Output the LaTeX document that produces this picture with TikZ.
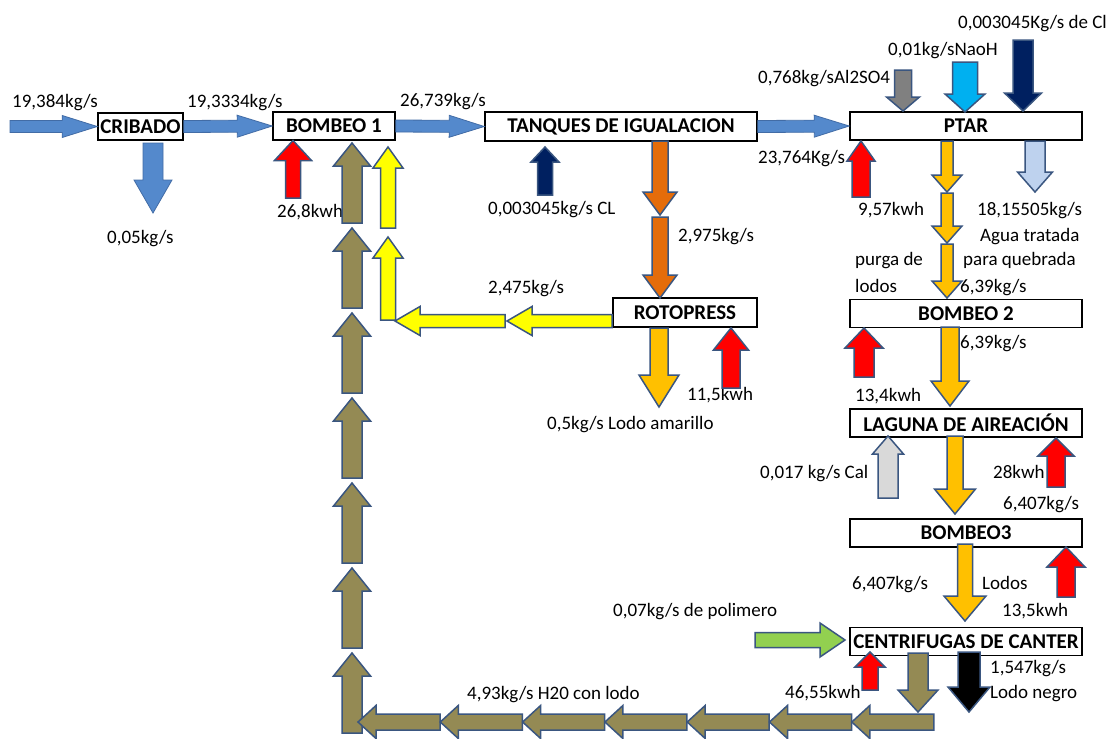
\documentclass[tikz,border=0pt]{standalone}
\usepackage{fontspec}
\setmainfont{Carlito}
\usepackage{tikz}
\usetikzlibrary{calc, positioning}

\definecolor{flowblue}{RGB}{84,137,204}
\definecolor{flowrim}{RGB}{66,108,166}
\definecolor{arrowrim}{RGB}{58,86,128}
\definecolor{powerred}{RGB}{255,0,0}
\definecolor{mudolive}{RGB}{148,138,84}
\definecolor{cakeyellow}{RGB}{255,255,0}
\definecolor{sludgeorange}{RGB}{228,108,10}
\definecolor{sludgegold}{RGB}{255,192,0}
\definecolor{chemnavy}{RGB}{0,32,96}
\definecolor{chemgrey}{RGB}{128,128,128}
\definecolor{sodasky}{RGB}{0,176,240}
\definecolor{cleanwater}{RGB}{190,210,238}
\definecolor{limegrey}{RGB}{217,217,217}
\definecolor{polygreen}{RGB}{146,208,80}

% block arrow: [style] {tail} {tip} {half shaft} {half head} {head length}
\newcommand\blockarrow[6][]{%
  \coordinate (ba-neck) at ($(#3)!#6pt!(#2)$);
  \draw[flowshape,#1] ($(#2)!#4pt!90:(#3)$) -- ($(ba-neck)!#4pt!90:(#3)$)
    -- ($(ba-neck)!#5pt!90:(#3)$) -- (#3) -- ($(ba-neck)!#5pt!-90:(#3)$)
    -- ($(ba-neck)!#4pt!-90:(#3)$) -- ($(#2)!#4pt!-90:(#3)$) -- cycle;}

\begin{document}
\begin{tikzpicture}[
  x=1pt, y=-1pt,
  unit/.style={draw, line width=1.6pt, font=\bfseries\fontsize{21}{23}\selectfont,
    minimum height=28pt, inner sep=0pt},
  tag/.style={anchor=base west, inner sep=0pt, font=\fontsize{19}{21}\selectfont},
  flowshape/.style={draw=arrowrim, line width=1.5pt, line join=miter},
  blueflow/.style={fill=flowblue, draw=flowrim, line width=0.8pt},
  power/.style={fill=powerred}]
\fill[white] (0,0) rectangle (1112,739);
\useasboundingbox (0,0) rectangle (1112,739);

% process units
\node[unit, minimum width=85pt, minimum height=27pt] (cribado) at (140.5,126.5) {CRIBADO};
\node[unit, minimum width=122pt] (bombeo1) at (334,126) {BOMBEO 1};
\node[unit, minimum width=272pt, minimum height=29pt] (tanques) at (621,126.5) {TANQUES DE IGUALACION};
\node[unit, minimum width=232pt] (ptar) at (966,126) {PTAR};
\node[unit, minimum width=144pt, minimum height=29pt] (rotopress) at (685,312.5) {ROTOPRESS};
\node[unit, minimum width=232pt, below=158pt of ptar] (bombeo2) {BOMBEO 2};
\node[unit, minimum width=232pt, below=80pt of bombeo2] (laguna) {LAGUNA DE AIREACIÓN};
\node[unit, minimum width=232pt, below=80pt of laguna] (bombeo3) {BOMBEO3};
\node[unit, minimum width=232pt, below=79pt of bombeo3] (centrifugas) {CENTRIFUGAS DE CANTER};

% flow values
\node[tag] (qin) at (12,107) {19,384kg/s};
\node[tag] (qcrib) at (187,107) {19,3334kg/s};
\node[tag] (qbomb) at (400,106) {26,739kg/s};
\node[tag] (qsolid) at (107,243) {0,05kg/s};
\node[tag] (ebomb1) at (277,217) {26,8kwh};
\node[tag] (qcl) at (488,214) {0,003045kg/s CL};
\node[tag] (qtank) at (678,241) {2,975kg/s};
\node[tag] (qback) at (488,293) {2,475kg/s};
\node[tag] (eroto) at (687,400) {11,5kwh};
\node[tag] (qyellow) at (547,429) {0,5kg/s Lodo amarillo};
\node[tag] (qclp) at (958,28) {0,003045Kg/s de Cl};
\node[tag] (qnaoh) at (888,55) {0,01kg/sNaoH};
\node[tag] (qalum) at (758,83) {0,768kg/sAl2SO4};
\node[tag] (qptar) at (758,163) {23,764Kg/s};
\node[tag] (eptar) at (858,215) {9,57kwh};
\node[tag] (qclean) at (977,215) {18,15505kg/s};
\node[tag] (tclean1) at (980,241) {Agua tratada};
\node[tag] (tclean2) at (963,265) {para quebrada};
\node[tag] (tpurge1) at (855,265) {purga de};
\node[tag] (tpurge2) at (855,292) {lodos};
\node[tag] (qpurge) at (960,292) {6,39kg/s};
\node[tag] (qb2) at (960,348) {6,39kg/s};
\node[tag] (eb2) at (855,401) {13,4kwh};
\node[tag] (qcal) at (760,478) {0,017 kg/s Cal};
\node[tag] (elag) at (993,478) {28kwh};
\node[tag] (qlag) at (1003,509) {6,407kg/s};
\node[tag] (qb3) at (852,589) {6,407kg/s};
\node[tag] (tb3) at (982,589) {Lodos};
\node[tag] (eb3) at (1002,616) {13,5kwh};
\node[tag] (qpoly) at (613,616) {0,07kg/s de polimero};
\node[tag] (ecent) at (785,698) {46,55kwh};
\node[tag] (qblack) at (990,673) {1,547kg/s};
\node[tag] (tblack) at (990,698) {Lodo negro};
\node[tag] (qreturn) at (467,699) {4,93kg/s H20 con lodo};

% main line
\coordinate (feed) at (10,126.5);
\blockarrow[blueflow]{feed}{cribado.west}{6}{11}{35}
\blockarrow[blueflow]{cribado.east}{bombeo1.west}{6}{11}{35}
\blockarrow[blueflow]{bombeo1.east}{tanques.west}{6}{11}{35}
\blockarrow[blueflow]{tanques.east}{ptar.west}{6}{11}{35}
\coordinate (screenA) at (153,143);
\coordinate (screenB) at (153,213);
\blockarrow[blueflow]{screenA}{screenB}{10}{19}{33}

% return of centrate, up the left side
\foreach \i in {0,...,6} {
  \coordinate (riseA\i) at (352,{223+85*\i});
  \coordinate (riseB\i) at (352,{143+85*\i});
  \blockarrow[fill=mudolive]{riseA\i}{riseB\i}{10}{18.5}{23}
}
\foreach \i in {0,...,6} {
  \coordinate (backA\i) at ({440+82.3*\i},722);
  \coordinate (backB\i) at ({358+82.3*\i},722);
  \blockarrow[fill=mudolive]{backA\i}{backB\i}{8}{16.5}{18}
}

% energy of bombeo 1 and tanques
\coordinate (pwA) at (293,198);
\coordinate (pwB) at (293,140.5);
\blockarrow[power]{pwA}{pwB}{7.5}{18.5}{20}
\coordinate (clA) at (545,195);
\coordinate (clB) at (545,147);
\blockarrow[fill=chemnavy]{clA}{clB}{7.5}{14}{15}

% sludge of tanques to rotopress
\coordinate (tkA) at (660,141);
\coordinate (tkB) at (660,215);
\coordinate (tkC) at (660,217);
\coordinate (tkD) at (660,298);
\blockarrow[fill=sludgeorange]{tkA}{tkB}{8}{17}{23}
\blockarrow[fill=sludgeorange]{tkC}{tkD}{8}{17}{23}

% filtrate back to bombeo 1
\coordinate (ftA) at (612,321);
\coordinate (ftB) at (507,321);
\coordinate (ftC) at (505,321);
\coordinate (ftD) at (395,321);
\coordinate (ftE) at (388,320);
\coordinate (ftF) at (388,237);
\coordinate (ftG) at (388,228);
\coordinate (ftH) at (388,147);
\blockarrow[fill=cakeyellow]{ftE}{ftF}{7.5}{15}{21}
\blockarrow[fill=cakeyellow]{ftG}{ftH}{7.5}{15}{21}
\blockarrow[fill=cakeyellow]{ftA}{ftB}{6.5}{14.5}{25}
\blockarrow[fill=cakeyellow]{ftC}{ftD}{6.5}{14.5}{25}

% rotopress outputs
\coordinate (rpA) at (659,328);
\coordinate (rpB) at (659,407);
\blockarrow[fill=sludgegold]{rpA}{rpB}{9}{20}{32}
\coordinate (rpC) at (731,388);
\coordinate (rpD) at (731,328);
\blockarrow[power]{rpC}{rpD}{9}{17.5}{22}

% dosing into ptar
\coordinate (alA) at (903,70);
\coordinate (alB) at (903,111);
\blockarrow[fill=chemgrey]{alA}{alB}{8.5}{16.5}{14}
\coordinate (naA) at (965,62);
\coordinate (naB) at (965,112);
\blockarrow[fill=sodasky]{naA}{naB}{12.5}{20}{18}
\coordinate (cpA) at (1023,40);
\coordinate (cpB) at (1023,111);
\blockarrow[fill=chemnavy]{cpA}{cpB}{10}{18.5}{18}

% ptar outputs
\coordinate (epA) at (861,197);
\coordinate (epB) at (861,141);
\blockarrow[power]{epA}{epB}{9}{14}{20}
\foreach \a/\b in {141/192,193/243,244/298} {
  \coordinate (pgA) at (947,\a);
  \coordinate (pgB) at (947,\b);
  \blockarrow[fill=sludgegold]{pgA}{pgB}{6}{15}{17}
}
\coordinate (cwA) at (1035,141);
\coordinate (cwB) at (1035,192);
\blockarrow[fill=cleanwater]{cwA}{cwB}{10}{17.5}{20}

% bombeo 2 and laguna
\coordinate (e2A) at (864,377);
\coordinate (e2B) at (864,328);
\blockarrow[power]{e2A}{e2B}{10}{19}{20}
\coordinate (b2A) at (950,327);
\coordinate (b2B) at (950,406);
\blockarrow[fill=sludgegold]{b2A}{b2B}{9}{19}{25}
\coordinate (caA) at (888,498);
\coordinate (caB) at (888,436);
\blockarrow[fill=limegrey]{caA}{caB}{10}{15.5}{18}
\coordinate (lgA) at (955,436);
\coordinate (lgB) at (955,514);
\blockarrow[fill=sludgegold]{lgA}{lgB}{8}{20.5}{25}
\coordinate (elA) at (1056,487);
\coordinate (elB) at (1056,438);
\blockarrow[power]{elA}{elB}{9}{18}{18}

% bombeo 3 and centrifugas
\coordinate (b3A) at (965,544);
\coordinate (b3B) at (965,621);
\blockarrow[fill=sludgegold]{b3A}{b3B}{7.5}{21}{25}
\coordinate (e3A) at (1066,597);
\coordinate (e3B) at (1066,547);
\blockarrow[power]{e3A}{e3B}{9}{19}{20}
\coordinate (poA) at (755,640);
\coordinate (poB) at (845,640);
\blockarrow[fill=polygreen]{poA}{poB}{7.5}{17}{25}
\coordinate (ecA) at (870,690);
\coordinate (ecB) at (870,652);
\blockarrow[power]{ecA}{ecB}{8}{15}{15}
\coordinate (lnA) at (969,652);
\coordinate (lnB) at (969,712);
\blockarrow[fill=black]{lnA}{lnB}{11}{21}{25}
\coordinate (ctA) at (918,653);
\coordinate (ctB) at (918,712);
\blockarrow[fill=mudolive]{ctA}{ctB}{10}{20}{22}
\end{tikzpicture}
\end{document}
